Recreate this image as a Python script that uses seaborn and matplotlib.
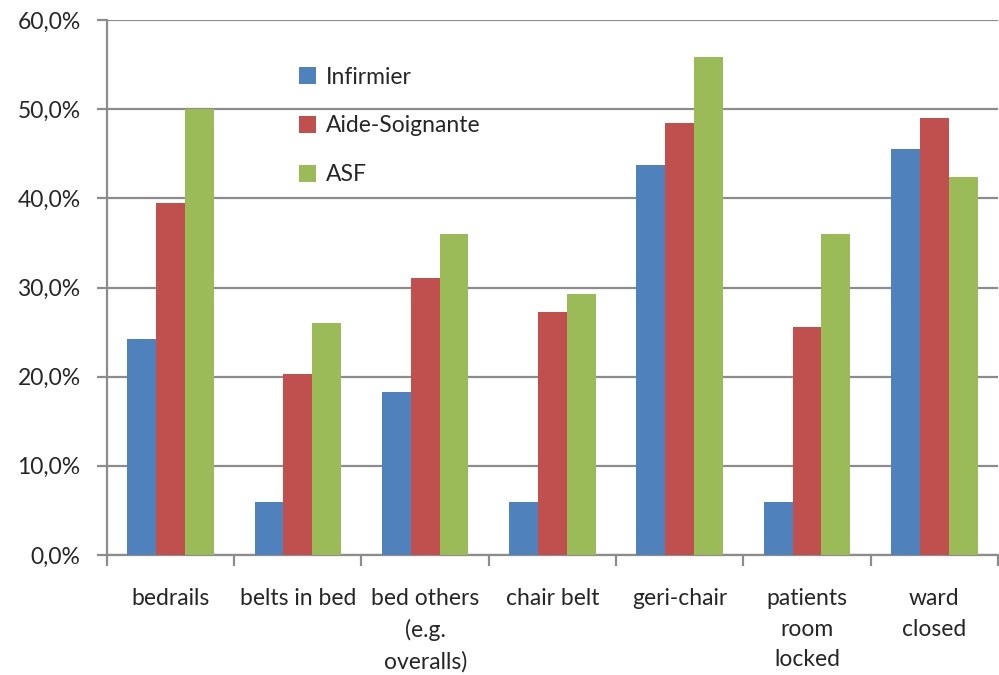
import pandas as pd
import numpy as np
import matplotlib
matplotlib.use("Agg")
import matplotlib.pyplot as plt
import seaborn as sns
from matplotlib.ticker import FuncFormatter, FixedLocator

# data (percent)
categories = ["bedrails", "belts in bed", "bed others\n(e.g.\noveralls)", "chair belt",
              "geri-chair", "patients\nroom\nlocked", "ward\nclosed"]
infirmier = [24.2, 5.9, 18.3, 5.9, 43.8, 5.9, 45.6]
aide_soignante = [39.5, 20.3, 31.1, 27.2, 48.5, 25.6, 49.0]
asf = [50.0, 26.0, 36.0, 29.3, 55.9, 36.0, 42.4]
series_names = ["Infirmier", "Aide-Soignante", "ASF"]
colors = ["#4F81BD", "#C0504D", "#9BBB59"]

df = pd.DataFrame({
    "category": categories * 3,
    "group": [series_names[0]] * 7 + [series_names[1]] * 7 + [series_names[2]] * 7,
    "value": infirmier + aide_soignante + asf,
})

sns.set_style("white")
plt.rcParams["font.family"] = ["Lato", "DejaVu Sans"]

fig = plt.figure(figsize=(9.99, 6.75), dpi=100)
ax = fig.add_axes([0.107, 0.178, 0.892, 0.792])

sns.barplot(data=df, x="category", y="value", hue="group", palette=colors,
            width=0.68, gap=0, saturation=1, linewidth=0, ax=ax, zorder=3)

ax.set_ylim(0, 60)
ax.set_xlim(-0.5, 6.5)
ax.set_yticks(np.arange(0, 61, 10))
ax.yaxis.set_major_formatter(FuncFormatter(lambda v, p: f"{v:.1f}%".replace(".", ",")))
ax.yaxis.grid(True, color="#8C8C8C", linewidth=1.6, zorder=0)
ax.set_axisbelow(True)

for s in ["top", "right"]:
    ax.spines[s].set_visible(False)
for s in ["left", "bottom"]:
    ax.spines[s].set_color("#8C8C8C")
    ax.spines[s].set_linewidth(1.6)

ax.set_xlabel("")
ax.set_ylabel("")
ax.tick_params(axis="y", which="major", length=7, width=1.6, color="#8C8C8C",
               labelsize=16.5, pad=12, left=True)
ax.tick_params(axis="x", which="major", length=0, labelsize=16.5, pad=24)
ax.xaxis.set_minor_locator(FixedLocator(np.arange(-0.5, 7, 1.0)))
ax.tick_params(axis="x", which="minor", length=8, width=1.6, color="#8C8C8C", bottom=True)
for lbl in ax.get_xticklabels():
    lbl.set_linespacing(1.55)
    lbl.set_verticalalignment("top")

leg = ax.legend(title=None, loc="upper left", bbox_to_anchor=(0.192, 0.952), frameon=False,
                fontsize=16.5, labelspacing=1.22, handlelength=0.75, handleheight=0.75,
                handletextpad=0.45)

plt.savefig("out.png", dpi=100)
